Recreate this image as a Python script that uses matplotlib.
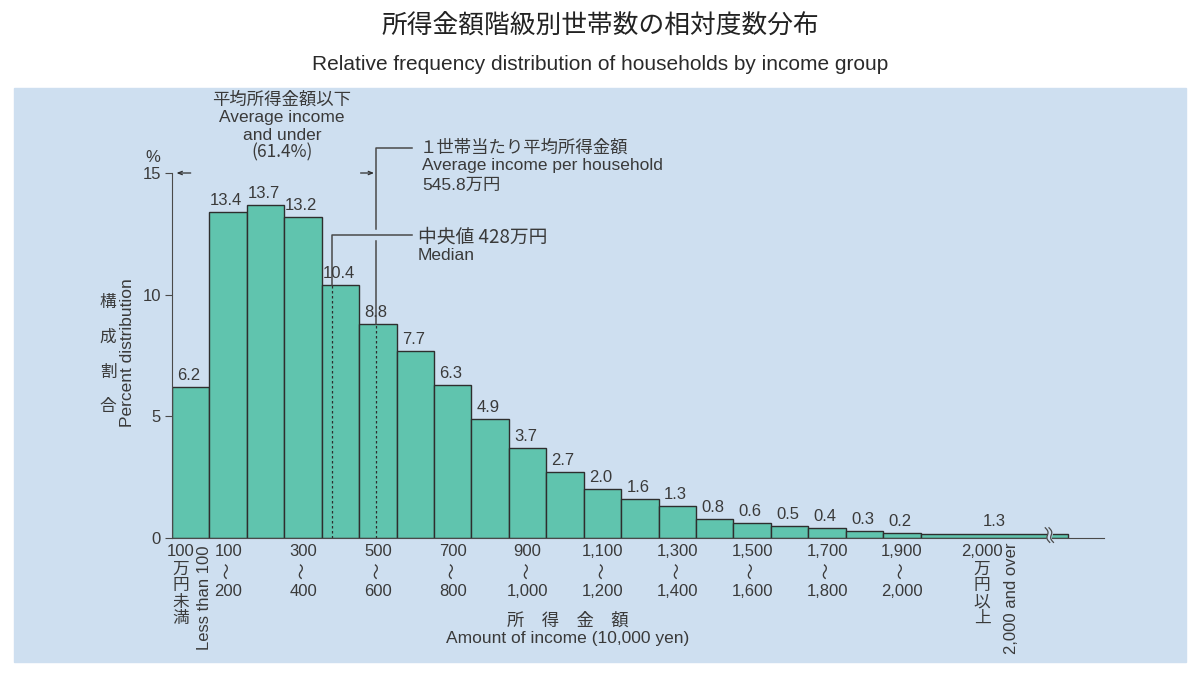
import matplotlib
matplotlib.use("Agg")
import matplotlib.pyplot as plt
from matplotlib.patches import Rectangle
import numpy as np

plt.rcParams['font.family'] = ['Liberation Sans', 'Noto Sans CJK JP']
JP = ['Noto Sans CJK JP', 'DejaVu Sans']

# percent of households per 100万円 income group (<100, 100-200, ..., 1900-2000)
shares = [6.2, 13.4, 13.7, 13.2, 10.4, 8.8, 7.7, 6.3, 4.9, 3.7,
          2.7, 2.0, 1.6, 1.3, 0.8, 0.6, 0.5, 0.4, 0.3, 0.2]
top_share = 1.3          # 2,000万円以上
top_bar_height = 0.15    # the wide open-ended bar is drawn flat
top_bar_width = 3.93
range_low = [100, 300, 500, 700, 900, 1100, 1300, 1500, 1700, 1900]
range_high = [200, 400, 600, 800, 1000, 1200, 1400, 1600, 1800, 2000]
mean_income = 545.8      # 万円
median_income = 428      # 万円
below_mean_pct = 61.4
yticks = [0, 5, 10, 15]

W, H = 1200, 673
bg = '#cedff0'
bar_col = '#60c4ae'
edge = '#2e2e2e'
txt = '#3a3a3a'
line = '#4a4a4a'


def fx(p):
    return p / W


def fy(p):
    return 1 - p / H


fig = plt.figure(figsize=(12, 6.73), dpi=100)
fig.patches.append(Rectangle((fx(14), fy(662)), (1186 - 14) / W, (662 - 88) / H,
                             transform=fig.transFigure, color=bg, zorder=-10))

ax = fig.add_axes([fx(172), fy(538), (1104 - 172) / W, (538 - 173) / H])
ax.patch.set_alpha(0)
ax.set_xlim(0, 24.9)
ax.set_ylim(0, 15)

n = len(shares)
ax.bar(np.arange(n), shares, width=1, align='edge', color=bar_col,
       edgecolor=edge, linewidth=1, zorder=2)
ax.bar(n, top_bar_height, width=top_bar_width, align='edge', color=bar_col,
       edgecolor=edge, linewidth=1, zorder=2)

# value labels
for i, v in enumerate(shares):
    ax.annotate(f"{v:.1f}", (i + 0.5, v), xytext=(-2, 4), textcoords='offset pixels',
                ha='center', va='bottom', fontsize=12, color=txt)
last_c = n + top_bar_width / 2
ax.annotate(f"{top_share:.1f}", (last_c, shares[-1]), xytext=(0, 4),
            textcoords='offset pixels', ha='center', va='bottom', fontsize=12, color=txt)

# axes styling
for s in ['top', 'right']:
    ax.spines[s].set_visible(False)
ax.spines['left'].set_bounds(0, 15)
ax.spines['left'].set_color(line)
ax.spines['bottom'].set_color(line)
ax.set_xticks([])
ax.set_yticks(yticks)
ax.tick_params(axis='y', direction='out', length=5, color=line, labelsize=12,
               labelcolor=txt, pad=3)
ax.annotate('%', (0, 15), xytext=(-19, 16), textcoords='offset pixels',
            ha='center', va='center', fontsize=12, color=txt, annotation_clip=False)

# axis break on the last bar
t = np.linspace(0, 1, 30)
wave = 0.12 * t + 0.04 * np.sin(2 * np.pi * t)
ys = 0.42 - 0.6 * t
ax.fill_betweenx(ys, 23.33 + wave, 23.43 + wave, color=bg, zorder=4, clip_on=False)
for dx in (0.0, 0.1):
    ax.plot(23.33 + dx + wave, ys, color=line, lw=0.9, clip_on=False, zorder=5)

# x tick labels
for lo, hi in zip(range_low, range_high):
    c = lo / 100 + 0.5
    ax.annotate(f"{lo:,}", (c, 0), xytext=(0, -13), textcoords='offset pixels',
                ha='center', va='center', fontsize=12, color=txt, annotation_clip=False)
    ax.annotate('〜', (c, 0), xytext=(0, -33), textcoords='offset pixels', rotation=90,
                ha='center', va='center', fontsize=12, color=txt, family=JP,
                annotation_clip=False)
    ax.annotate(f"{hi:,}", (c, 0), xytext=(0, -54), textcoords='offset pixels',
                ha='center', va='center', fontsize=12, color=txt, annotation_clip=False)

ax.annotate('100', (0.5, 0), xytext=(-10, -13), textcoords='offset pixels',
            ha='center', va='center', fontsize=12, color=txt, annotation_clip=False)
ax.annotate('万\n円\n未\n満', (0.5, 0), xytext=(-10, -23), textcoords='offset pixels',
            ha='center', va='top', fontsize=12, color=txt, family=JP, linespacing=0.95,
            annotation_clip=False)
ax.annotate('Less than 100', (0.5, 0), xytext=(14, -7), textcoords='offset pixels',
            rotation=90, ha='center', va='top', fontsize=12, color=txt, annotation_clip=False)

ax.annotate(f"{range_high[-1]:,}", (last_c, 0), xytext=(-12, -13), textcoords='offset pixels',
            ha='center', va='center', fontsize=12, color=txt, annotation_clip=False)
ax.annotate('万\n円\n以\n上', (last_c, 0), xytext=(-12, -23), textcoords='offset pixels',
            ha='center', va='top', fontsize=12, color=txt, family=JP, linespacing=0.95,
            annotation_clip=False)
ax.annotate(f"{range_high[-1]:,} and over", (last_c, 0), xytext=(17, -5),
            textcoords='offset pixels', rotation=90, ha='center', va='top', fontsize=12,
            color=txt, annotation_clip=False)

# mean & median guide lines
x_mean = mean_income / 100
x_med = median_income / 100
y_mean = 16.03
y_med = 12.45
x_end = 6.41
i_mean = int(x_mean)
i_med = int(x_med)
ax.plot([x_mean, x_mean], [0, shares[i_mean]], color=edge, lw=0.9, ls=(0, (2, 2)), zorder=3)
ax.plot([x_med, x_med], [0, shares[i_med]], color=edge, lw=0.9, ls=(0, (2, 2)), zorder=3)
ax.plot([x_mean, x_mean, x_end], [y_med + 0.25, y_mean, y_mean], color=line, lw=1.1, clip_on=False)
ax.plot([x_mean, x_mean], [shares[i_mean], y_med - 0.25], color=line, lw=1.1, clip_on=False)
ax.plot([x_med, x_med, x_end], [shares[i_med], y_med, y_med], color=line, lw=1.1, clip_on=False)

ax.annotate('１世帯当たり平均所得金額', (x_end, y_mean), xytext=(8, 0),
            textcoords='offset pixels', ha='left', va='center', fontsize=12.5, color=txt,
            family=JP, annotation_clip=False)
ax.annotate('Average income per household', (x_end, y_mean), xytext=(10, -18),
            textcoords='offset pixels', ha='left', va='center', fontsize=12.5, color=txt,
            annotation_clip=False)
ax.annotate(f'{mean_income}万円', (x_end, y_mean), xytext=(10, -37),
            textcoords='offset pixels', ha='left', va='center', fontsize=12.5, color=txt,
            annotation_clip=False)
ax.annotate(f'中央値 {median_income}万円', (x_end, y_med), xytext=(6, -2),
            textcoords='offset pixels', ha='left', va='center', fontsize=13.5, color=txt,
            family=JP, annotation_clip=False)
ax.annotate('Median', (x_end, y_med), xytext=(6, -20),
            textcoords='offset pixels', ha='left', va='center', fontsize=12.5, color=txt,
            annotation_clip=False)

# "average income and under" range arrows
arr = dict(arrowstyle='->,head_length=0.3,head_width=0.12', color=edge, lw=0.9,
           shrinkA=0, shrinkB=0)
ax.annotate('', xy=(0.12, 15), xytext=(0.5, 15), arrowprops=arr, annotation_clip=False)
ax.annotate('', xy=(x_mean - 0.06, 15), xytext=(x_mean - 0.42, 15), arrowprops=arr,
            annotation_clip=False)
lines = ['平均所得金額以下', 'Average income', 'and under', f'({below_mean_pct}%)']
for k, s in enumerate(lines):
    fig.text(fx(282), fy(100 + 17.5 * k), s, ha='center', va='center', fontsize=12.5,
             color=txt, family=JP if k in (0, 3) else None)

# axis titles
for k, ch in enumerate('構成割合'):
    fig.text(fx(108), fy(302 + 35 * k), ch, ha='center', va='center', fontsize=12,
             color=txt, family=JP)
fig.text(fx(127), fy(353), 'Percent distribution', rotation=90, ha='center', va='center',
         fontsize=12.5, color=txt)
fig.text(fx(568), fy(621), '所　得　金　額', ha='center', va='center', fontsize=12.5,
         color=txt, family=JP)
fig.text(fx(568), fy(638), 'Amount of income (10,000 yen)', ha='center', va='center',
         fontsize=12.5, color=txt)

# titles
fig.text(0.5, fy(27), '所得金額階級別世帯数の相対度数分布', ha='center', va='center',
         fontsize=18.5, color='#222222', family=JP)
fig.text(0.5, fy(65), 'Relative frequency distribution of households by income group',
         ha='center', va='center', fontsize=15, color='#2a2a2a')

fig.savefig('out.png', dpi=100)
